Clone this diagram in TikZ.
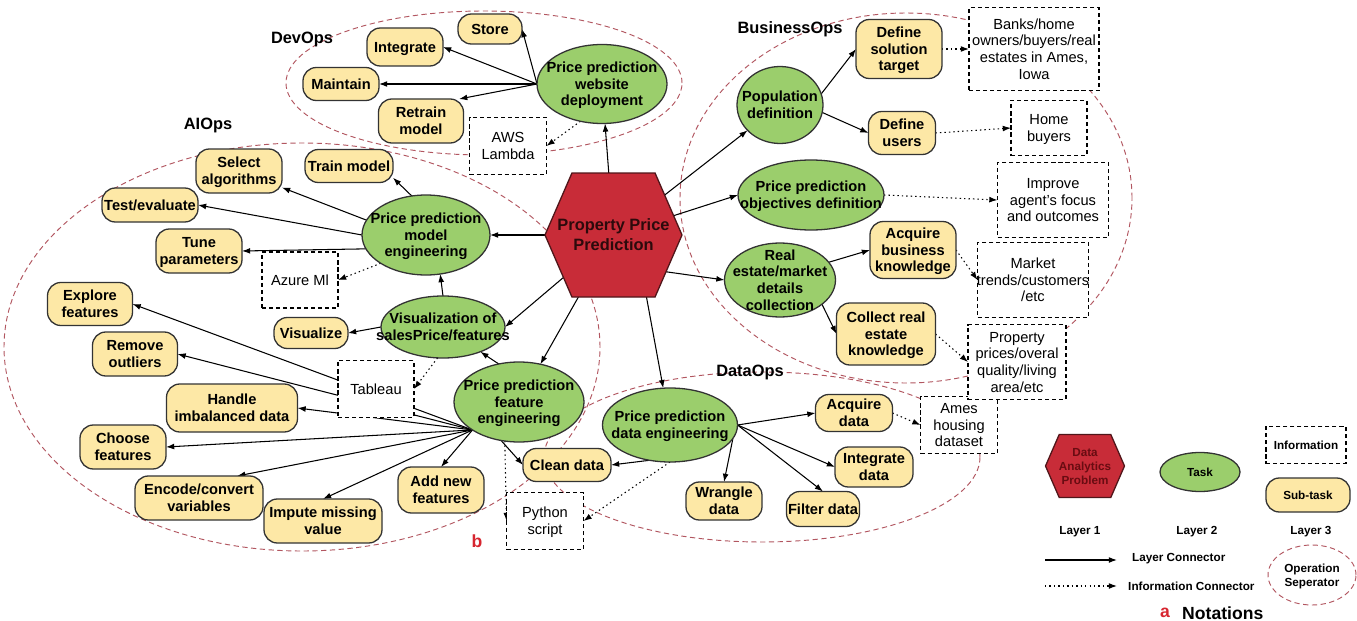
\documentclass[tikz,border=0pt]{standalone}
\usepackage{fontspec}
\setmainfont{Liberation Sans}
\usetikzlibrary{arrows.meta,shapes.geometric,shapes.symbols,backgrounds}

\definecolor{probred}{RGB}{200,44,56}
\definecolor{probline}{RGB}{80,22,26}
\definecolor{probtext}{RGB}{45,10,12}
\definecolor{keytext}{RGB}{105,12,18}
\definecolor{taskgreen}{RGB}{155,206,108}
\definecolor{subyellow}{RGB}{253,232,166}
\definecolor{sepred}{RGB}{178,86,96}
\definecolor{tagred}{RGB}{215,38,48}

\newcommand{\nodefont}{\fontsize{12.5}{14.2}\selectfont\bfseries}
\newcommand{\infofont}{\fontsize{12.5}{14.2}\selectfont}
\newcommand{\keyfont}{\fontsize{10}{12}\selectfont\bfseries}
\newcommand{\opfont}{\fontsize{14}{16}\selectfont\bfseries}
\newcommand{\tagfont}{\fontsize{15}{17}\selectfont\bfseries}

% centred lines of zero size, so the shape keeps its given size
\newcommand{\ctr}[1]{\hbox to 0pt{\hss\smash{\lower.37em\hbox{%
  \begin{tabular}{@{}c@{}}#1\end{tabular}}}\hss}}

\tikzset{
  wh/.style 2 args={minimum width=#1*0.3mm, minimum height=#2*0.3mm},
  shapebox/.style={inner sep=0pt, outer sep=0pt, line width=1.1pt},
  prob/.style={shapebox, signal, signal to=east and west, signal pointer angle=133,
    draw=probline, fill=probred, text=probtext, font=\fontsize{14}{17}\selectfont\bfseries},
  task/.style={shapebox, ellipse, draw=black!80, fill=taskgreen, font=\nodefont},
  subtask/.style={shapebox, rectangle, rounded corners=4mm, draw=black!80, fill=subyellow, font=\nodefont},
  info/.style={shapebox, rectangle, draw=black, fill=white, dash pattern=on 3.5pt off 2.5pt,
    line width=0.9pt, font=\infofont},
  opring/.style={draw=sepred, line width=0.8pt, dash pattern=on 4.5pt off 3pt},
  conn/.style={-{Latex[length=7pt,width=5pt]}, line width=0.9pt},
  infoconn/.style={conn, dash pattern=on 1.2pt off 2.6pt},
  oplabel/.style={inner sep=0pt, font=\opfont},
}

\begin{document}
\begin{tikzpicture}[x=0.3mm, y=-0.3mm]
\useasboundingbox (0,0) rectangle (1357,621);

% problem in the middle
\node[prob, wh={137}{124}] (hex) at (613.5,235) {\ctr{Property Price\\Prediction}};

% DevOps
\node[oplabel] (devops) at (302,39) {DevOps};
\node[subtask, wh={64}{30}] (store) at (490,29) {\ctr{Store}};
\node[subtask, wh={76}{38}] (integ) at (405,47) {\ctr{Integrate}};
\node[subtask, wh={76}{33}] (maint) at (341,84) {\ctr{Maintain}};
\node[subtask, wh={85}{44}] (retrain) at (421,121) {\ctr{Retrain\\model}};
\node[task, wh={130}{79}] (deploy) at (602,84) {\ctr{Price prediction\\website\\deployment}};
\node[info, wh={77}{57}] (aws) at (508,146) {\ctr{AWS\\Lambda}};

% AIOps
\node[oplabel] (aiops) at (208,125) {AIOps};
\node[subtask, wh={88}{33}] (trainm) at (349,166) {\ctr{Train model}};
\node[subtask, wh={86}{44}] (select) at (239,171) {\ctr{Select\\algorithms}};
\node[subtask, wh={96}{34}] (testev) at (150,205) {\ctr{Test/evaluate}};
\node[subtask, wh={86}{44}] (tune) at (199,251) {\ctr{Tune\\parameters}};
\node[task, wh={128}{80}] (model) at (426,235) {\ctr{Price prediction\\model\\engineering}};
\node[info, wh={76}{56}] (azure) at (300,280) {\ctr{Azure Ml}};
\node[subtask, wh={85}{43}] (explore) at (90,304) {\ctr{Explore\\features}};
\node[subtask, wh={74}{31}] (visualize) at (311,333) {\ctr{Visualize}};
\node[task, wh={124}{62}] (vis) at (443,327) {\ctr{Visualization of\\salesPrice/features}};
\node[subtask, wh={85}{44}] (remove) at (135,354) {\ctr{Remove\\outliers}};
\node[info, wh={76}{57}] (tableau) at (376,389) {\ctr{Tableau}};
\node[subtask, wh={131}{48}] (handle) at (232,408) {\ctr{Handle\\imbalanced data}};
\node[task, wh={130}{80}] (feat) at (519,402) {\ctr{Price prediction\\feature\\engineering}};
\node[subtask, wh={86}{44}] (choose) at (123,447) {\ctr{Choose\\features}};
\node[subtask, wh={128}{44}] (encode) at (199,498) {\ctr{Encode/convert\\variables}};
\node[subtask, wh={118}{44}] (impute) at (323,521) {\ctr{Impute missing\\value}};
\node[subtask, wh={86}{46}] (addnew) at (441,490) {\ctr{Add new\\features}};
\node[subtask, wh={88}{33}] (clean) at (567,465) {\ctr{Clean data}};
\node[info, wh={77}{57}] (python) at (545,521) {\ctr{Python\\script}};
\node[font=\tagfont, text=tagred, inner sep=0pt] (tagb) at (477,541) {b};

% DataOps
\node[oplabel] (dataops) at (750,372) {DataOps};
\node[task, wh={135}{74}] (dataeng) at (670,425) {\ctr{Price prediction\\data engineering}};
\node[subtask, wh={77}{37}] (acqdata) at (854,413) {\ctr{Acquire\\data}};
\node[info, wh={77}{57}] (ames) at (959,425) {\ctr{Ames\\housing\\dataset}};
\node[subtask, wh={78}{40}] (integdata) at (874,467) {\ctr{Integrate\\data}};
\node[subtask, wh={73}{35}] (filter) at (823,509) {\ctr{Filter data}};
\node[subtask, wh={76}{38}] (wrangle) at (724,501) {\ctr{Wrangle\\data}};

% BusinessOps
\node[oplabel] (busops) at (790,29) {BusinessOps};
\node[subtask, wh={86}{59}] (soltarget) at (899,49) {\ctr{Define\\solution\\target}};
\node[info, wh={130}{83}] (banks) at (1034,49) {\ctr{Banks/home\\owners/buyers/real\\estates in Ames,\\Iowa}};
\node[task, wh={86}{77}] (pop) at (780,105) {\ctr{Population\\definition}};
\node[subtask, wh={67}{43}] (users) at (902,133) {\ctr{Define\\users}};
\node[info, wh={76}{55}] (homeb) at (1049,128) {\ctr{Home\\buyers}};
\node[task, wh={146}{70}] (obj) at (811,195) {\ctr{Price prediction\\objectives definition}};
\node[info, wh={111}{75}] (improve) at (1053,200) {\ctr{Improve\\agent's focus\\and outcomes}};
\node[task, wh={111}{74}] (realest) at (780,280) {\ctr{Real\\estate/market\\details\\collection}};
\node[subtask, wh={86}{57}] (acqbus) at (913,250) {\ctr{Acquire\\business\\knowledge}};
\node[info, wh={111}{75}] (market) at (1033,280) {\ctr{Market\\trends/customers\\/etc}};
\node[subtask, wh={99}{62}] (collect) at (886,334) {\ctr{Collect real\\estate\\knowledge}};
\node[info, wh={98}{75}] (propp) at (1017,362) {\ctr{Property\\prices/overal\\quality/living\\area/etc}};

% notations
\node[prob, wh={79}{63}, font=\keyfont, text=keytext] (keyprob) at (1085,466) {\ctr{Data\\Analytics\\Problem}};
\node[task, wh={80}{39}, font=\keyfont] (keytask) at (1200,472) {\ctr{Task}};
\node[info, wh={80}{37}, font=\keyfont] (keyinfo) at (1306,445) {\ctr{Information}};
\node[subtask, wh={84}{34}, font=\keyfont] (keysub) at (1308,495) {\ctr{Sub-task}};
\node[font=\keyfont] (layer1) at (1080,532) {Layer 1};
\node[font=\keyfont] (layer2) at (1197,532) {Layer 2};
\node[font=\keyfont] (layer3) at (1311,532) {Layer 3};
\node[shapebox, ellipse, opring, wh={88}{60}, font=\keyfont] (keysep) at (1312,575) {\ctr{Operation\\Seperator}};
\coordinate (lcA) at (1045,560);
\coordinate (lcB) at (1117,560);
\coordinate (icA) at (1045,586);
\coordinate (icB) at (1117,586);
\node[font=\keyfont, anchor=west, inner sep=0pt] (lctext) at (1132,559) {Layer Connector};
\node[font=\keyfont, anchor=west, inner sep=0pt] (ictext) at (1128,586) {Information Connector};
\node[font=\tagfont, text=tagred, inner sep=0pt] (taga) at (1165,613) {a};
\node[font=\tagfont, anchor=west, inner sep=0pt] (notations) at (1182,613) {Notations};

\begin{pgfonlayer}{background}
\fill[white] (0,0) rectangle (1357,621);
% operation separators
\draw[opring] (484,83) ellipse [x radius=59.4mm, y radius=21.6mm];
\draw[opring] (302,347) ellipse [x radius=89.4mm, y radius=61.2mm];
\draw[opring] (906,198) ellipse [x radius=67.8mm, y radius=55.5mm];
\draw[opring] (762,457) ellipse [x radius=65.4mm, y radius=25.5mm];

% layer connectors
\draw[conn] (hex) -- (deploy);
\draw[conn] (hex) -- (model);
\draw[conn] (hex) -- (vis.east);
\draw[conn] (hex) -- (feat);
\draw[conn] (hex.-62) -- (dataeng);
\draw[conn] (hex) -- (pop);
\draw[conn] (hex) -- (obj.west);
\draw[conn] (hex.-35) -- (realest.west);

\draw[conn] (deploy.west) -- (store.east);
\draw[conn] (deploy.west) -- (integ.east);
\draw[conn] (deploy.west) -- (maint.east);
\draw[conn] (deploy.west) -- (retrain.30);

\draw[conn] (model.110) -- (trainm.-15);
\draw[conn] (model.166) -- (select);
\draw[conn] (model.west) -- (testev.east);
\draw[conn] (model.193) -- (tune.east);
\draw[conn] (vis.north) -- (model.-70);
\draw[conn] (vis.west) -- (visualize.east);
\draw[conn] (feat.118) -- (vis);
\foreach \sub in {explore,remove,handle,choose}
  \draw[conn] (feat.211) -- (\sub.east);
\draw[conn] (feat.211) -- (encode.30);
\draw[conn] (feat.211) -- (impute.north);
\draw[conn] (feat.211) -- (addnew.north);
\draw[conn] (feat.245) -- (clean.west);

\draw[conn] (dataeng.240) -- (clean.east);
\draw[conn] (dataeng.east) -- (acqdata.west);
\draw[conn] (dataeng.east) -- (integdata.west);
\draw[conn] (dataeng.east) -- (filter.north);
\draw[conn] (dataeng.-12) -- (wrangle.north);

\draw[conn] (pop.15) -- (soltarget.west);
\draw[conn] (pop.-10) -- (users.west);
\draw[conn] (realest.20) -- (acqbus.west);
\draw[conn] (realest.-30) -- (collect.west);

% information connectors
\draw[infoconn] (deploy.240) -- (aws.east);
\draw[infoconn] (model.212) -- (azure.east);
\draw[infoconn] (vis.-100) -- (tableau.east);
\draw[infoconn] (feat.250) -- (python.west);
\draw[infoconn] (dataeng.south) -- (python.east);
\draw[infoconn] (acqdata.east) -- (ames.west);
\draw[infoconn] (soltarget.east) -- (banks.west);
\draw[infoconn] (users.east) -- (homeb.west);
\draw[infoconn] (obj.east) -- (improve.west);
\draw[infoconn] (acqbus.east) -- (market.west);
\draw[infoconn] (collect.east) -- (propp.west);

% notation connectors
\draw[conn] (lcA) -- (lcB);
\draw[infoconn] (icA) -- (icB);
\end{pgfonlayer}
\end{tikzpicture}
\end{document}
